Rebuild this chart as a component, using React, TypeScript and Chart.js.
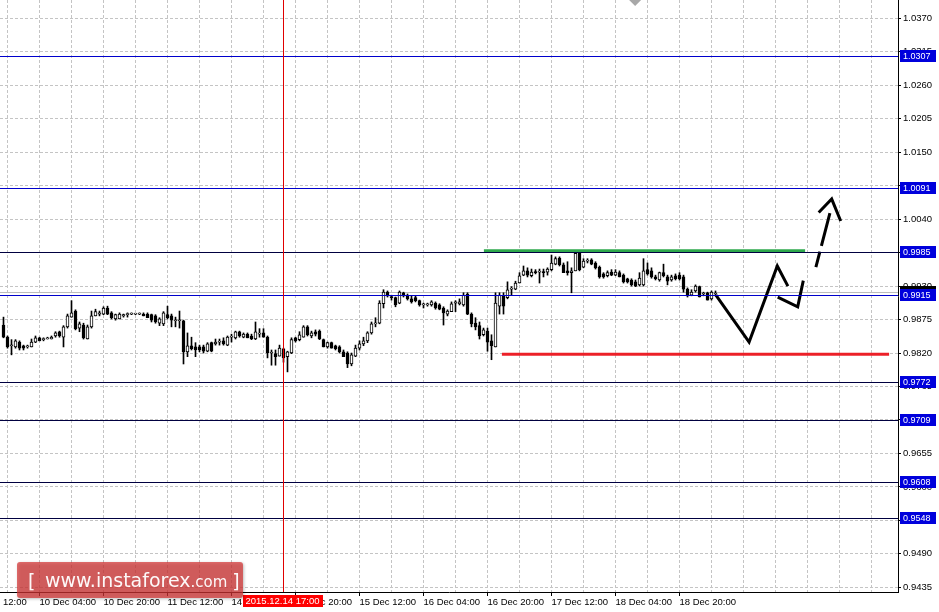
import React, { useEffect, useRef } from 'react';
import { Chart, registerables } from 'chart.js';

Chart.register(...registerables);

// ---- candle data (EUR/CHF H1, bars indexed from the left edge) ----
const OPEN = [
  0.9866, 0.9846, 0.9832, 0.9830, 0.9838, 0.9832, 0.9830, 0.9830, 0.9838, 0.9845,
  0.9842, 0.9843, 0.9843, 0.9848, 0.9855, 0.9846, 0.9863, 0.9879, 0.9889, 0.9861,
  0.9866, 0.9843, 0.9863, 0.9881, 0.9884, 0.9884, 0.9894, 0.9886, 0.9876, 0.9876,
  0.9881, 0.9883, 0.9884, 0.9884, 0.9884, 0.9884, 0.9884, 0.9883, 0.9881, 0.9869,
  0.9868, 0.9883, 0.9881, 0.9873, 0.9873, 0.9873, 0.9822, 0.9832, 0.9830, 0.9830,
  0.9830, 0.9823, 0.9837, 0.9835, 0.9838, 0.9840, 0.9833, 0.9846, 0.9845, 0.9855,
  0.9846, 0.9851, 0.9848, 0.9843, 0.9851, 0.9853, 0.9846, 0.9820, 0.9819, 0.9815,
  0.9827, 0.9814, 0.9820, 0.9845, 0.9842, 0.9846, 0.9863, 0.9848, 0.9855, 0.9856,
  0.9842, 0.9830, 0.9837, 0.9832, 0.9830, 0.9822, 0.9820, 0.9802, 0.9815, 0.9828,
  0.9835, 0.9840, 0.9853, 0.9868, 0.9869, 0.9901, 0.9920, 0.9912, 0.9911, 0.9902,
  0.9919, 0.9915, 0.9909, 0.9911, 0.9906, 0.9899, 0.9899, 0.9899, 0.9902, 0.9899,
  0.9894, 0.9884, 0.9888, 0.9902, 0.9901, 0.9899, 0.9917, 0.9884, 0.9869, 0.9865,
  0.9850, 0.9856, 0.9840, 0.9830, 0.9897, 0.9915, 0.9911, 0.9925, 0.9925, 0.9935,
  0.9948, 0.9955, 0.9947, 0.9953, 0.9953, 0.9953, 0.9953, 0.9957, 0.9966, 0.9976,
  0.9965, 0.9955, 0.9952, 0.9955, 0.9984, 0.9961, 0.9971, 0.9973, 0.9968, 0.9961,
  0.9950, 0.9947, 0.9953, 0.9948, 0.9952, 0.9948, 0.9942, 0.9940, 0.9937, 0.9932,
  0.9932, 0.9957, 0.9955, 0.9945, 0.9940, 0.9952, 0.9945, 0.9940, 0.9947, 0.9948,
  0.9945, 0.9925, 0.9915, 0.9922, 0.9929, 0.9917, 0.9919, 0.9909, 0.9917,
];
const HIGH = [
  0.9879, 0.9848, 0.9842, 0.9842, 0.9840, 0.9833, 0.9833, 0.9843, 0.9848, 0.9846,
  0.9845, 0.9846, 0.9848, 0.9855, 0.9856, 0.9865, 0.9884, 0.9906, 0.9891, 0.9871,
  0.9869, 0.9866, 0.9889, 0.9892, 0.9889, 0.9896, 0.9897, 0.9888, 0.9884, 0.9886,
  0.9884, 0.9886, 0.9886, 0.9884, 0.9886, 0.9886, 0.9886, 0.9884, 0.9883, 0.9878,
  0.9888, 0.9897, 0.9884, 0.9879, 0.9889, 0.9874, 0.9853, 0.9846, 0.9837, 0.9833,
  0.9833, 0.9837, 0.9838, 0.9843, 0.9843, 0.9845, 0.9848, 0.9851, 0.9856, 0.9856,
  0.9853, 0.9853, 0.9851, 0.9871, 0.9860, 0.9860, 0.9848, 0.9825, 0.9825, 0.9833,
  0.9828, 0.9823, 0.9845, 0.9846, 0.9855, 0.9865, 0.9865, 0.9856, 0.9858, 0.9858,
  0.9843, 0.9838, 0.9838, 0.9833, 0.9832, 0.9825, 0.9822, 0.9820, 0.9833, 0.9840,
  0.9846, 0.9855, 0.9871, 0.9878, 0.9906, 0.9924, 0.9922, 0.9915, 0.9912, 0.9922,
  0.9920, 0.9917, 0.9914, 0.9914, 0.9907, 0.9902, 0.9902, 0.9906, 0.9904, 0.9901,
  0.9896, 0.9891, 0.9904, 0.9906, 0.9909, 0.9919, 0.9919, 0.9886, 0.9878, 0.9871,
  0.9861, 0.9861, 0.9850, 0.9919, 0.9919, 0.9919, 0.9937, 0.9929, 0.9938, 0.9952,
  0.9963, 0.9960, 0.9958, 0.9957, 0.9958, 0.9958, 0.9960, 0.9981, 0.9978, 0.9978,
  0.9968, 0.9970, 0.9960, 0.9986, 0.9986, 0.9975, 0.9975, 0.9975, 0.9970, 0.9963,
  0.9952, 0.9955, 0.9957, 0.9957, 0.9955, 0.9950, 0.9943, 0.9942, 0.9940, 0.9952,
  0.9975, 0.9968, 0.9960, 0.9948, 0.9953, 0.9966, 0.9948, 0.9948, 0.9950, 0.9952,
  0.9948, 0.9927, 0.9924, 0.9932, 0.9930, 0.9920, 0.9920, 0.9922, 0.9922,
];
const LOW = [
  0.9845, 0.9828, 0.9817, 0.9828, 0.9825, 0.9825, 0.9828, 0.9830, 0.9837, 0.9840,
  0.9840, 0.9843, 0.9843, 0.9846, 0.9846, 0.9830, 0.9861, 0.9879, 0.9858, 0.9855,
  0.9843, 0.9843, 0.9861, 0.9881, 0.9881, 0.9883, 0.9883, 0.9876, 0.9874, 0.9876,
  0.9879, 0.9879, 0.9883, 0.9883, 0.9883, 0.9881, 0.9878, 0.9871, 0.9869, 0.9865,
  0.9865, 0.9876, 0.9863, 0.9863, 0.9861, 0.9802, 0.9814, 0.9825, 0.9814, 0.9822,
  0.9820, 0.9822, 0.9822, 0.9833, 0.9833, 0.9833, 0.9832, 0.9838, 0.9843, 0.9846,
  0.9845, 0.9845, 0.9842, 0.9842, 0.9846, 0.9846, 0.9812, 0.9800, 0.9800, 0.9815,
  0.9805, 0.9789, 0.9819, 0.9838, 0.9840, 0.9846, 0.9848, 0.9845, 0.9848, 0.9842,
  0.9830, 0.9828, 0.9828, 0.9825, 0.9820, 0.9814, 0.9796, 0.9799, 0.9814, 0.9825,
  0.9832, 0.9837, 0.9851, 0.9863, 0.9868, 0.9894, 0.9912, 0.9907, 0.9896, 0.9901,
  0.9912, 0.9907, 0.9902, 0.9904, 0.9897, 0.9894, 0.9897, 0.9897, 0.9892, 0.9891,
  0.9866, 0.9881, 0.9888, 0.9888, 0.9899, 0.9897, 0.9883, 0.9863, 0.9858, 0.9843,
  0.9848, 0.9823, 0.9809, 0.9830, 0.9884, 0.9884, 0.9909, 0.9915, 0.9924, 0.9935,
  0.9947, 0.9945, 0.9945, 0.9950, 0.9935, 0.9945, 0.9948, 0.9955, 0.9965, 0.9963,
  0.9952, 0.9948, 0.9919, 0.9955, 0.9955, 0.9960, 0.9968, 0.9965, 0.9958, 0.9943,
  0.9943, 0.9945, 0.9947, 0.9947, 0.9945, 0.9935, 0.9935, 0.9930, 0.9929, 0.9930,
  0.9930, 0.9948, 0.9943, 0.9940, 0.9938, 0.9945, 0.9932, 0.9938, 0.9940, 0.9940,
  0.9920, 0.9912, 0.9914, 0.9920, 0.9912, 0.9914, 0.9907, 0.9907, 0.9914,
];
const CLOSE = [
  0.9846, 0.9830, 0.9833, 0.9840, 0.9828, 0.9828, 0.9832, 0.9838, 0.9845, 0.9840,
  0.9843, 0.9845, 0.9846, 0.9853, 0.9848, 0.9863, 0.9881, 0.9886, 0.9860, 0.9868,
  0.9845, 0.9863, 0.9881, 0.9888, 0.9886, 0.9894, 0.9884, 0.9878, 0.9883, 0.9884,
  0.9883, 0.9884, 0.9884, 0.9884, 0.9884, 0.9881, 0.9878, 0.9874, 0.9871, 0.9876,
  0.9886, 0.9878, 0.9874, 0.9873, 0.9873, 0.9822, 0.9832, 0.9827, 0.9825, 0.9825,
  0.9823, 0.9835, 0.9823, 0.9838, 0.9838, 0.9835, 0.9846, 0.9848, 0.9855, 0.9848,
  0.9851, 0.9845, 0.9843, 0.9855, 0.9851, 0.9846, 0.9820, 0.9820, 0.9814, 0.9828,
  0.9812, 0.9822, 0.9842, 0.9840, 0.9850, 0.9863, 0.9850, 0.9853, 0.9851, 0.9843,
  0.9830, 0.9837, 0.9828, 0.9827, 0.9822, 0.9814, 0.9802, 0.9817, 0.9828, 0.9835,
  0.9840, 0.9853, 0.9868, 0.9869, 0.9902, 0.9920, 0.9914, 0.9911, 0.9899, 0.9920,
  0.9914, 0.9909, 0.9904, 0.9906, 0.9899, 0.9899, 0.9901, 0.9904, 0.9894, 0.9892,
  0.9886, 0.9889, 0.9901, 0.9904, 0.9904, 0.9915, 0.9884, 0.9868, 0.9863, 0.9848,
  0.9858, 0.9838, 0.9832, 0.9902, 0.9915, 0.9897, 0.9924, 0.9925, 0.9935, 0.9947,
  0.9955, 0.9948, 0.9953, 0.9952, 0.9953, 0.9952, 0.9958, 0.9968, 0.9975, 0.9965,
  0.9952, 0.9952, 0.9955, 0.9984, 0.9957, 0.9971, 0.9971, 0.9966, 0.9960, 0.9945,
  0.9945, 0.9952, 0.9948, 0.9953, 0.9945, 0.9937, 0.9937, 0.9932, 0.9930, 0.9943,
  0.9955, 0.9950, 0.9945, 0.9942, 0.9952, 0.9947, 0.9938, 0.9945, 0.9942, 0.9942,
  0.9925, 0.9914, 0.9920, 0.9930, 0.9912, 0.9917, 0.9907, 0.9920, 0.9917,
];

// ---- axis labels ----
const X_LABEL_INDEX = [-7, 9, 25, 41, 57, 73, 89, 105, 121, 137, 153, 169];
const X_LABELS = [
  '9 Dec 12:00', '10 Dec 04:00', '10 Dec 20:00', '11 Dec 12:00', '14 Dec 04:00', '14 Dec 20:00',
  '15 Dec 12:00', '16 Dec 04:00', '16 Dec 20:00', '17 Dec 12:00', '18 Dec 04:00', '18 Dec 20:00',
];
const X_GRID_START = 1;
const X_GRID_STEP = 8;
const X_MIN = -0.875;
const X_MAX = 223.625;
const Y_TICKS = [
  0.9435, 0.949, 0.9545, 0.96, 0.9655, 0.971, 0.9765, 0.982, 0.9875, 0.993,
  0.9985, 1.004, 1.0095, 1.015, 1.0205, 1.026, 1.0315, 1.037,
];
const Y_MIN = 0.94273;
const Y_MAX = 1.04001;

// ---- horizontal levels ----
const LEVELS = [1.0307, 1.0091, 0.9985, 0.9915, 0.9772, 0.9709, 0.9608, 0.9548];
const LEVEL_COLORS = ['#0000cc', '#0000cc', '#000040', '#0000cc', '#000040', '#000040', '#000040', '#000040'];
const BID = 0.992;
const CROSSHAIR_INDEX = 70;
const CROSSHAIR_LABEL = '2015.12.14 17:00';
const MARKER_INDEX = 157.9;

// ---- drawn objects (bar index, price) ----
const GREEN_X = [120.1, 200.4];
const GREEN_Y = [0.9988, 0.9988];
const RED_X = [124.6, 221.4];
const RED_Y = [0.9818, 0.9818];
const PATH1_X = [178.1, 186.4, 193.45, 196.1];
const PATH1_Y = [0.9915, 0.9838, 0.9963, 0.993];
const PATH2_X = [193.55, 198.55, 199.95];
const PATH2_Y = [0.9912, 0.9896, 0.9939];
const DASH_X = [203.1, 206.6];
const DASH_Y = [0.9961, 1.005];
const HEAD_X = [203.8, 207.05, 209.3];
const HEAD_Y = [1.0051, 1.0073, 1.0037];

const FONT_FAMILY = '"Liberation Sans", Arial, sans-serif';

const pts = (xs: number[], ys: number[]) => xs.map((x, i) => ({ x, y: ys[i] }));
const labelFor = (v: number) => {
  const k = X_LABEL_INDEX.indexOf(v);
  return k >= 0 ? X_LABELS[k] : '';
};

const overlayPlugin = {
  id: 'mtOverlay',
  beforeDraw(chart: any) {
    const { ctx } = chart;
    ctx.save();
    ctx.fillStyle = '#ffffff';
    ctx.fillRect(0, 0, chart.width, chart.height);
    ctx.restore();
  },
  beforeDatasetsDraw(chart: any) {
    const { ctx, chartArea: a, scales } = chart;
    const py = Math.floor(scales.y.getPixelForValue(BID)) + 0.5;
    ctx.save();
    ctx.strokeStyle = '#bdbdbd';
    ctx.lineWidth = 1;
    ctx.beginPath();
    ctx.moveTo(a.left, py);
    ctx.lineTo(a.right, py);
    ctx.stroke();
    ctx.restore();
  },
  afterDatasetsDraw(chart: any) {
    const { ctx, chartArea: a, scales } = chart;
    ctx.save();
    ctx.lineWidth = 1;
    LEVELS.forEach((p, i) => {
      const py = Math.floor(scales.y.getPixelForValue(p)) + 0.5;
      ctx.strokeStyle = LEVEL_COLORS[i];
      ctx.beginPath();
      ctx.moveTo(a.left, py);
      ctx.lineTo(a.right, py);
      ctx.stroke();
    });
    const cx = Math.floor(scales.x.getPixelForValue(CROSSHAIR_INDEX)) + 0.5;
    ctx.strokeStyle = '#e00000';
    ctx.beginPath();
    ctx.moveTo(cx, a.top);
    ctx.lineTo(cx, a.bottom);
    ctx.stroke();
    ctx.restore();
  },
  afterDraw(chart: any) {
    const { ctx, chartArea: a, scales } = chart;
    ctx.save();
    ctx.font = `9px ${FONT_FAMILY}`;
    ctx.textBaseline = 'middle';
    ctx.textAlign = 'left';
    // bid price box (mostly covered)
    const by = Math.floor(scales.y.getPixelForValue(BID));
    ctx.fillStyle = '#000000';
    ctx.fillRect(a.right + 2, by - 6, 36, 12);
    ctx.fillStyle = '#ffffff';
    ctx.fillText(BID.toFixed(4), a.right + 5, by + 0.5);
    // level boxes
    LEVELS.forEach((p) => {
      const py = Math.floor(scales.y.getPixelForValue(p));
      ctx.fillStyle = '#0000dc';
      ctx.fillRect(a.right + 2, py - 6, 36, 12);
      ctx.fillStyle = '#ffffff';
      ctx.fillText(p.toFixed(4), a.right + 5, py + 0.5);
    });
    // crosshair time box
    const cx = scales.x.getPixelForValue(CROSSHAIR_INDEX);
    ctx.fillStyle = '#ff0000';
    ctx.fillRect(Math.round(cx - 41), a.bottom + 3, 80, 12);
    ctx.fillStyle = '#ffffff';
    ctx.textAlign = 'center';
    ctx.font = `9.5px ${FONT_FAMILY}`;
    ctx.fillText(CROSSHAIR_LABEL, cx - 1, a.bottom + 9.5);
    // top marker
    const mx = scales.x.getPixelForValue(MARKER_INDEX);
    ctx.fillStyle = '#a8a8a8';
    ctx.beginPath();
    ctx.moveTo(mx - 6, a.top);
    ctx.lineTo(mx, a.top + 6);
    ctx.lineTo(mx + 6, a.top);
    ctx.closePath();
    ctx.fill();
    // watermark
    const wx = 17, wy = 562, ww = 226, wh = 36, r = 3;
    ctx.shadowColor = 'rgba(0,0,0,0.35)';
    ctx.shadowBlur = 3;
    ctx.shadowOffsetX = 1;
    ctx.shadowOffsetY = 1;
    ctx.beginPath();
    ctx.moveTo(wx + r, wy);
    ctx.lineTo(wx + ww - r, wy);
    ctx.quadraticCurveTo(wx + ww, wy, wx + ww, wy + r);
    ctx.lineTo(wx + ww, wy + wh - r);
    ctx.quadraticCurveTo(wx + ww, wy + wh, wx + ww - r, wy + wh);
    ctx.lineTo(wx + r, wy + wh);
    ctx.quadraticCurveTo(wx, wy + wh, wx, wy + wh - r);
    ctx.lineTo(wx, wy + r);
    ctx.quadraticCurveTo(wx, wy, wx + r, wy);
    ctx.closePath();
    ctx.fillStyle = 'rgba(214, 52, 52, 0.72)';
    ctx.fill();
    ctx.shadowColor = 'rgba(0,0,0,0)';
    ctx.shadowBlur = 0;
    ctx.shadowOffsetX = 0;
    ctx.shadowOffsetY = 0;
    ctx.fillStyle = 'rgba(255,255,255,0.96)';
    ctx.textAlign = 'left';
    ctx.textBaseline = 'alphabetic';
    ctx.font = '19px "DejaVu Sans"';
    ctx.fillText('[', 28, 588);
    ctx.fillText('www.instaforex', 45, 587);
    const w1 = ctx.measureText('www.instaforex').width;
    ctx.font = '15px "DejaVu Sans"';
    ctx.fillText('.com', 45 + w1, 587);
    const w2 = ctx.measureText('.com').width;
    ctx.font = '19px "DejaVu Sans"';
    ctx.fillText(']', 45 + w1 + w2 + 5, 588);
    ctx.restore();
  },
};

export default function App() {
  const ref = useRef<HTMLCanvasElement | null>(null);
  useEffect(() => {
    if (!ref.current) return;
    const bull = (i: number) => CLOSE[i] >= OPEN[i];
    const lineCommon = {
      type: 'line' as const,
      borderColor: '#000000',
      borderWidth: 3,
      pointRadius: 0,
      fill: false,
      tension: 0,
      order: 0,
      borderJoinStyle: 'miter' as const,
    };
    const chart = new Chart(ref.current, {
      type: 'bar',
      data: {
        datasets: [
          { ...lineCommon, label: 'path1', data: pts(PATH1_X, PATH1_Y) },
          { ...lineCommon, label: 'path2', data: pts(PATH2_X, PATH2_Y) },
          { ...lineCommon, label: 'dash', data: pts(DASH_X, DASH_Y), borderDash: [16, 6, 40, 6] },
          { ...lineCommon, label: 'head', data: pts(HEAD_X, HEAD_Y) },
          { ...lineCommon, label: 'resistance', data: pts(GREEN_X, GREEN_Y), borderColor: '#2ea84c' },
          { ...lineCommon, label: 'support', data: pts(RED_X, RED_Y), borderColor: '#ec2028' },
          {
            type: 'bar',
            label: 'body',
            data: OPEN.map((o, i) => ({ x: i, y: [o, CLOSE[i]] })) as any,
            backgroundColor: (c: any) => (bull(c.dataIndex) ? '#ffffff' : '#000000'),
            borderColor: '#000000',
            borderWidth: 1,
            borderSkipped: false,
            barThickness: 3,
            grouped: false,
            minBarLength: 1,
            order: 1,
          },
          {
            type: 'bar',
            label: 'wick',
            data: LOW.map((l, i) => ({ x: i, y: [l, HIGH[i]] })) as any,
            backgroundColor: '#000000',
            borderWidth: 0,
            barThickness: 1,
            grouped: false,
            order: 2,
          },
        ] as any,
      },
      options: {
        responsive: false,
        maintainAspectRatio: false,
        devicePixelRatio: 1,
        animation: false,
        events: [],
        layout: { padding: 0 },
        plugins: { legend: { display: false }, tooltip: { enabled: false }, title: { display: false } },
        scales: {
          x: {
            type: 'linear',
            position: 'bottom',
            min: X_MIN,
            max: X_MAX,
            offset: false,
            afterBuildTicks: (s: any) => {
              const t: any[] = [{ value: X_LABEL_INDEX[0] }];
              for (let v = X_GRID_START; v <= X_MAX; v += X_GRID_STEP) t.push({ value: v });
              s.ticks = t;
            },
            afterFit: (s: any) => {
              s.height = 20;
              s.paddingLeft = 0;
              s.paddingRight = 0;
            },
            ticks: {
              autoSkip: false,
              maxRotation: 0,
              minRotation: 0,
              align: 'start',
              padding: 1,
              labelOffset: 0,
              color: '#000000',
              font: { family: FONT_FAMILY, size: 9.5 },
              callback: (v: any) => labelFor(Number(v)),
            },
            grid: {
              color: '#c4c4c4',
              lineWidth: 1,
              drawTicks: true,
              tickLength: 4,
              tickColor: (c: any) => (c.tick && X_LABEL_INDEX.includes(c.tick.value) ? '#000000' : 'rgba(0,0,0,0)'),
              tickBorderDash: [],
              offset: false,
            } as any,
            border: { display: true, color: '#000000', width: 1, dash: [3, 2] },
          } as any,
          y: {
            type: 'linear',
            position: 'right',
            min: Y_MIN,
            max: Y_MAX,
            afterBuildTicks: (s: any) => {
              s.ticks = Y_TICKS.map((v) => ({ value: v }));
            },
            afterFit: (s: any) => {
              s.width = 41;
              s.paddingTop = 0;
              s.paddingBottom = 0;
            },
            ticks: {
              padding: 2,
              color: '#000000',
              font: { family: FONT_FAMILY, size: 9.5 },
              callback: (v: any) => Number(v).toFixed(4),
            },
            grid: {
              color: '#c4c4c4',
              lineWidth: 1,
              drawTicks: true,
              tickLength: 3,
              tickColor: '#000000',
              tickBorderDash: [],
            } as any,
            border: { display: true, color: '#000000', width: 1, dash: [3, 2] },
          } as any,
        },
      },
      plugins: [overlayPlugin],
    });
    return () => chart.destroy();
  }, []);

  return (
    <div style={{ position: 'fixed', left: 0, top: 0, width: 939, height: 612, background: '#ffffff' }}>
      <canvas ref={ref} width={939} height={612} style={{ display: 'block', width: 939, height: 612 }} />
    </div>
  );
}
